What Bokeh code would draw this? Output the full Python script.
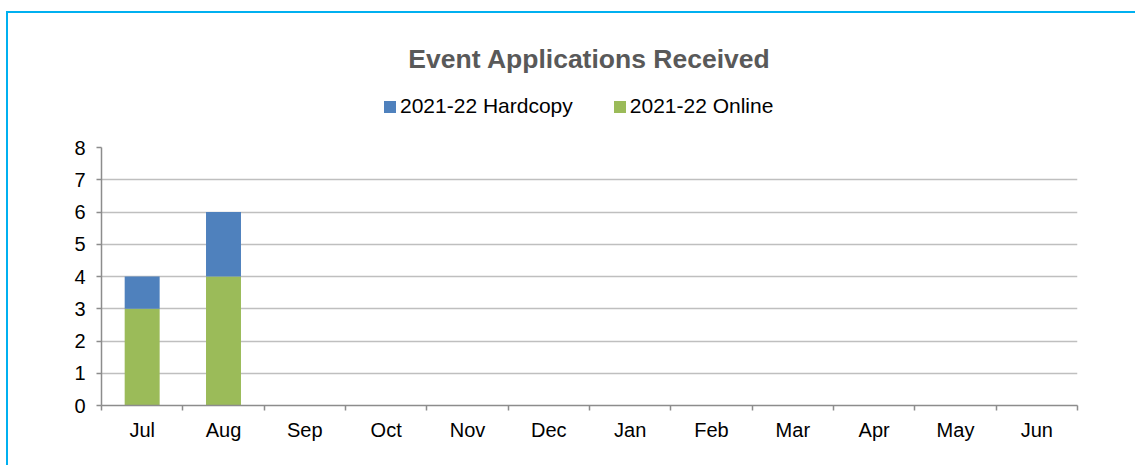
from bokeh.plotting import figure
from bokeh.models import Legend, LegendItem, FixedTicker, Range1d, ColumnDataSource, Label
from bokeh.layouts import column
from bokeh.embed import file_html
from bokeh.resources import INLINE

months = ["Jul", "Aug", "Sep", "Oct", "Nov", "Dec", "Jan", "Feb", "Mar", "Apr", "May", "Jun"]
hardcopy = [1, 2, 0, 0, 0, 0, 0, 0, 0, 0, 0, 0]
online = [3, 4, 0, 0, 0, 0, 0, 0, 0, 0, 0, 0]
series = ["2021-22 Hardcopy", "2021-22 Online"]
y_ticks = [0, 1, 2, 3, 4, 5, 6, 7, 8]
title_text = "Event Applications Received"

FONT = "Liberation Sans"
BLUE = "#4F81BD"
GREEN = "#9BBB59"
BORDER = "#00B0F0"
W = 1127
TOP_H = 120

# ---- header (title + legend); its frame is aligned with the chart frame ----
head = figure(width=W, height=TOP_H, output_backend="svg", toolbar_location=None,
              x_range=Range1d(0, 1), y_range=Range1d(0, TOP_H),
              x_axis_location=None, y_axis_location=None, min_border=0)
head.grid.visible = False
head.outline_line_color = None
# invisible proxy renderers that only supply the legend swatches
leg_src = ColumnDataSource(dict(x=[float("nan")], top=[float("nan")]))
r_hard = head.vbar(x="x", top="top", width=0.1, source=leg_src, color=BLUE, line_color=None)
r_on = head.vbar(x="x", top="top", width=0.1, source=leg_src, color=GREEN, line_color=None)

head.add_layout(Label(x=0.5, y=75, text=title_text, text_align="center", text_baseline="middle",
                      text_font=FONT, text_font_size="26.5px", text_font_style="bold",
                      text_color="#595959"))

legend = Legend(items=[LegendItem(label=series[0], renderers=[r_hard]),
                       LegendItem(label=series[1], renderers=[r_on])],
                orientation="horizontal", location=(281, 15))
legend.label_text_font = FONT
legend.label_text_font_size = "21px"
legend.label_text_color = "#000000"
legend.glyph_width = 15
legend.glyph_height = 15
legend.label_standoff = 3
legend.spacing = 39
legend.border_line_color = None
legend.background_fill_alpha = 0
legend.padding = 0
legend.margin = 0
head.add_layout(legend, "center")

# ---- main chart ----
xpos = [i + 0.5 for i in range(len(months))]
src = ColumnDataSource(dict(x=xpos, online=online, hardcopy=hardcopy))

p = figure(width=W, height=332, output_backend="svg", toolbar_location=None,
           x_range=Range1d(0, len(months)), y_range=Range1d(0, 8),
           min_border_left=93, min_border_right=58, min_border_top=14, min_border_bottom=60)

p.vbar_stack(["online", "hardcopy"], x="x", width=0.43, source=src,
             color=[GREEN, BLUE], line_color=None)

p.outline_line_color = None
p.xgrid.grid_line_color = None
p.ygrid.grid_line_color = "#BFBFBF"
p.ygrid.grid_line_width = 1.5

p.xaxis.ticker = FixedTicker(ticks=xpos, minor_ticks=list(range(len(months) + 1)))
p.xaxis.major_label_overrides = {x: m for x, m in zip(xpos, months)}
p.xaxis.major_tick_out = 0
p.xaxis.major_tick_in = 0
p.xaxis.minor_tick_out = 5
p.xaxis.minor_tick_in = 0
p.xaxis.major_label_standoff = 8

p.yaxis.ticker = FixedTicker(ticks=y_ticks)
p.yaxis.major_tick_out = 5
p.yaxis.major_tick_in = 0
p.yaxis.minor_tick_line_color = None
p.yaxis.major_label_standoff = 11

for ax in (p.xaxis, p.yaxis):
    ax.axis_line_color = "#8C8C8C"
    ax.axis_line_width = 1.5
    ax.major_tick_line_color = "#8C8C8C"
    ax.major_tick_line_width = 1.5
    ax.minor_tick_line_width = 1.5
    ax.major_label_text_font = FONT
    ax.major_label_text_font_size = "20px"
    ax.major_label_text_color = "#000000"
p.xaxis.minor_tick_line_color = "#8C8C8C"

layout = column(head, p, spacing=0,
                styles={"border-top": "2px solid " + BORDER,
                        "border-left": "2px solid " + BORDER,
                        "border-right": "none", "border-bottom": "none",
                        "margin-left": "6px", "margin-top": "11px"})

open("out.html", "w").write(file_html(layout, INLINE))
